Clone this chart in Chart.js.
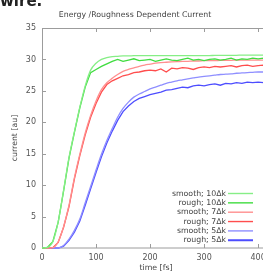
<!DOCTYPE html>
<html>
<head>
<meta charset="utf-8">
<script src="https://cdn.jsdelivr.net/npm/chart.js@4.4.1/dist/chart.umd.min.js"></script>
<style>
  html, body { margin: 0; padding: 0; background: #fff; overflow: hidden; }
  #wrap { position: relative; width: 263px; height: 275px; overflow: hidden; }
  #lead { position: absolute; left: 0; top: -6px; font: bold 15px/15px "DejaVu Sans", sans-serif; color: #222; }
  canvas { position: absolute; left: 0; top: 0; }
</style>
</head>
<body>
<div id="wrap">
  <canvas id="chart" width="270" height="275"></canvas>
  <div id="lead">wire.</div>
</div>
<script>
// time axis (fs)
const times = [0, 10, 20, 30, 40, 50, 60, 70, 80, 90, 100, 110, 120, 130, 140, 150, 160, 170, 180, 190, 200,
  210, 220, 230, 240, 250, 260, 270, 280, 290, 300, 310, 320, 330, 340, 350, 360, 370, 380, 390, 400, 410, 420];

const smooth10 = [0, 0.1, 1.0, 4.2, 9.2, 14.4, 18.5, 22.4, 25.8, 28.3, 29.4, 30.0, 30.3, 30.45, 30.5, 30.55, 30.55, 30.6, 30.6, 30.6, 30.6,
  30.6, 30.6, 30.6, 30.6, 30.6, 30.6, 30.6, 30.6, 30.6, 30.6, 30.6, 30.65, 30.65, 30.65, 30.65, 30.65, 30.7, 30.7, 30.7, 30.7, 30.7, 30.7];
const rough10 = [0, 0.1, 1.0, 4.1, 9.1, 14.3, 18.4, 22.3, 25.6, 27.9, 28.4, 28.9, 29.3, 29.7, 30.0, 29.7, 29.9, 30.1, 29.8, 29.9, 30.0,
  29.7, 29.9, 30.1, 29.9, 29.8, 30.0, 30.2, 29.9, 30.0, 29.8, 30.0, 30.1, 29.9, 30.0, 30.2, 29.9, 30.1, 30.0, 30.2, 30.1, 30.2, 30.1];
const smooth7 = [0, 0, 0.05, 1.0, 3.4, 6.8, 11.2, 14.9, 18.3, 21.1, 23.4, 25.2, 26.3, 27.0, 27.6, 28.1, 28.4, 28.65, 28.9, 29.1, 29.25,
  29.4, 29.5, 29.55, 29.6, 29.65, 29.7, 29.7, 29.75, 29.75, 29.8, 29.8, 29.8, 29.85, 29.85, 29.85, 29.9, 29.9, 29.9, 29.9, 29.9, 29.9, 29.9];
const rough7 = [0, 0, 0.05, 0.9, 3.3, 6.6, 11.0, 14.7, 18.0, 20.8, 23.0, 24.8, 26.0, 26.6, 27.0, 27.4, 27.6, 27.9, 28.0, 28.2, 28.3,
  28.2, 28.5, 28.0, 28.6, 28.5, 28.7, 28.6, 28.4, 28.7, 28.8, 28.7, 28.9, 28.8, 28.9, 29.0, 28.8, 29.0, 29.1, 28.9, 29.0, 29.1, 29.0];
const smooth5 = [0, 0, 0, 0, 0.4, 1.4, 2.8, 4.6, 7.2, 9.8, 12.4, 14.9, 17.1, 19.0, 20.8, 22.2, 23.2, 24.0, 24.5, 24.9, 25.3,
  25.6, 25.9, 26.2, 26.4, 26.6, 26.75, 26.9, 27.05, 27.2, 27.3, 27.4, 27.5, 27.6, 27.65, 27.7, 27.8, 27.85, 27.9, 27.95, 28.0, 28.0, 28.05];
const rough5 = [0, 0, 0, 0, 0.3, 1.2, 2.5, 4.3, 6.8, 9.4, 12.0, 14.5, 16.7, 18.6, 20.3, 21.7, 22.6, 23.3, 23.8, 24.1, 24.4,
  24.6, 24.8, 25.1, 25.2, 25.4, 25.6, 25.5, 25.8, 25.9, 25.8, 26.0, 26.1, 25.9, 26.2, 26.1, 26.3, 26.2, 26.4, 26.3, 26.4, 26.3, 26.4];

const seriesLabels = ['smooth; 10\u0394k', 'rough; 10\u0394k', 'smooth; 7\u0394k', 'rough; 7\u0394k', 'smooth; 5\u0394k', 'rough; 5\u0394k'];
const seriesValues = [smooth10, rough10, smooth7, rough7, smooth5, rough5];
const seriesColors = ['#86ee86', '#3fdc3f', '#ff8f8f', '#ff4d4d', '#8f8fff', '#4d4dff'];

const xTicks = [0, 100, 200, 300, 400];
const yTicks = [0, 5, 10, 15, 20, 25, 30, 35];

const FONT = '"DejaVu Sans", sans-serif';

// gnuplot-like frame with inward ticks
const framePlugin = {
    id: 'frame',
    beforeDatasetsDraw(chart) {
        const { ctx, chartArea: a, scales: { x, y } } = chart;
        ctx.save();
        ctx.strokeStyle = '#9c9c9c';
        ctx.lineWidth = 1;
        ctx.strokeRect(a.left + 0.5, a.top + 0.5, a.right - a.left, a.bottom - a.top - 0.5);
        ctx.beginPath();
        yTicks.forEach(v => {
            const py = Math.round(y.getPixelForValue(v)) + 0.5;
            ctx.moveTo(a.left, py);
            ctx.lineTo(a.left + 4, py);
        });
        xTicks.forEach(v => {
            const px = Math.round(x.getPixelForValue(v)) + 0.5;
            ctx.moveTo(px, a.top);
            ctx.lineTo(px, a.top + 4);
            ctx.moveTo(px, a.bottom);
            ctx.lineTo(px, a.bottom - 4);
        });
        ctx.stroke();
        ctx.restore();
    },
    afterDatasetsDraw(chart) {
        const { ctx, chartArea: a } = chart;
        ctx.save();
        ctx.font = '7.8px ' + FONT;
        ctx.textAlign = 'right';
        ctx.textBaseline = 'middle';
        chart.data.datasets.forEach((ds, i) => {
            const py = a.bottom - 54.5 + i * 9.35;
            ctx.fillStyle = '#444';
            ctx.fillText(ds.label, a.right - 44, py);
            ctx.strokeStyle = ds.borderColor;
            ctx.lineWidth = ds.label.startsWith('rough; 5') ? 2 : 1.4;
            ctx.beginPath();
            ctx.moveTo(a.right - 42, py);
            ctx.lineTo(a.right - 17, py);
            ctx.stroke();
        });
        ctx.restore();
    }
};

new Chart(document.getElementById('chart').getContext('2d'), {
    type: 'line',
    data: {
        labels: times,
        datasets: seriesValues.map((vals, i) => ({
            label: seriesLabels[i],
            data: vals.map((v, k) => ({ x: times[k], y: v })),
            borderColor: seriesColors[i],
            borderWidth: 1.3,
            pointRadius: 0,
            fill: false,
            tension: i % 2 === 0 ? 0.4 : 0,
            cubicInterpolationMode: i % 2 === 0 ? 'monotone' : 'default',
            clip: false
        }))
    },
    options: {
        responsive: false,
        animation: false,
        layout: { padding: 0 },
        plugins: {
            legend: { display: false },
            tooltip: { enabled: false },
            title: {
                display: true,
                text: 'Energy /Roughness Dependent Current',
                color: '#444',
                font: { family: FONT, size: 7.8, weight: 'normal', lineHeight: 1 },
                padding: { top: 11, bottom: 9.2 }
            }
        },
        scales: {
            x: {
                type: 'linear',
                min: 0,
                max: 422,
                grid: { display: false, drawTicks: false },
                border: { display: false },
                afterBuildTicks: s => { s.ticks = xTicks.map(v => ({ value: v })); },
                afterFit: s => { s.height = 27; s.paddingLeft = 0; s.paddingRight = 0; },
                ticks: { color: '#555', padding: 5, maxRotation: 0, font: { family: FONT, size: 8 } },
                title: {
                    display: true,
                    text: 'time [fs]',
                    color: '#444',
                    padding: { top: 0, bottom: 3 },
                    font: { family: FONT, size: 7.8, lineHeight: 1 }
                }
            },
            y: {
                min: 0,
                max: 35,
                grid: { display: false, drawTicks: false },
                border: { display: false },
                afterBuildTicks: s => { s.ticks = yTicks.map(v => ({ value: v })); },
                afterFit: s => { s.width = 42; s.paddingTop = 0; s.paddingBottom = 0; },
                ticks: { color: '#555', padding: 6, font: { family: FONT, size: 8 } },
                title: {
                    display: true,
                    text: 'current [au]',
                    color: '#444',
                    padding: { top: 11, bottom: 0 },
                    font: { family: FONT, size: 7.8, lineHeight: 1 }
                }
            }
        }
    },
    plugins: [framePlugin]
});
</script>
</body>
</html>
